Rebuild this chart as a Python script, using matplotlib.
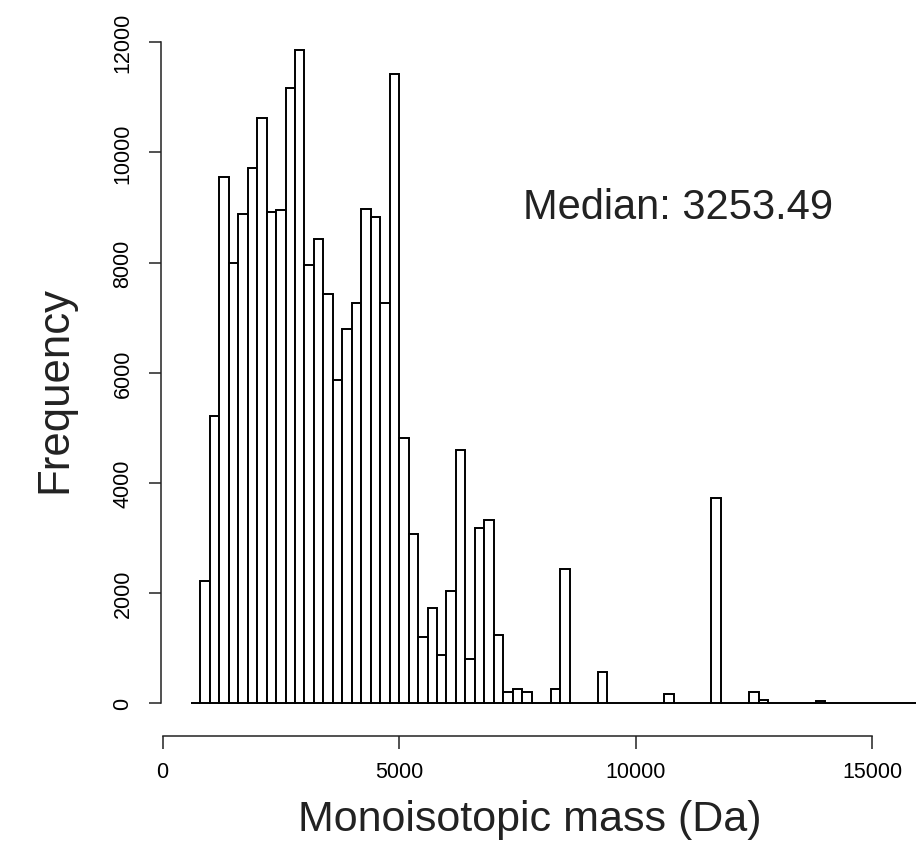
import numpy as np
import matplotlib
matplotlib.use('Agg')
import matplotlib.pyplot as plt

plt.rcParams['font.family'] = ['Liberation Sans', 'DejaVu Sans']

# histogram bins (200 Da wide), left edges
bin_width = 200
bin_starts = np.arange(600, 16200, bin_width)
counts = [0, 2220, 5220, 9560, 7990, 8890, 9720, 10620, 8920, 8950,
          11170, 11860, 7960, 8430, 7425, 5875, 6795, 7260, 8965, 8835,
          7260, 11420, 4805, 3075, 1190, 1730, 880, 2040, 4600, 805,
          3185, 3330, 1240, 205, 260, 205, 0, 0, 260, 2430,
          0, 0, 0, 570, 0, 0, 0, 0, 0, 0,
          155, 0, 0, 0, 0, 3720, 0, 0, 0, 205,
          55, 0, 0, 0, 0, 0, 30, 0, 0, 0,
          0, 0, 0, 0, 0, 0, 0, 0]

x_ticks = [0, 5000, 10000, 15000]
y_ticks = [0, 2000, 4000, 6000, 8000, 10000, 12000]
median_text = 'Median: 3253.49'

W, H = 916, 845
fig = plt.figure(figsize=(W / 100, H / 100), dpi=100)

# axes box: y axis line at x=160.7px, x axis line at y=737px
ax_left, ax_bottom = 160.7, 737.0
ax = fig.add_axes([ax_left / W, (H - ax_bottom) / H, (W - ax_left) / W, ax_bottom / H])

px_per_da = (872.4 - 162.5) / 15000
px_per_cnt = (704.0 - 43.3) / 12000
ax.set_xlim((ax_left - 162.5) / px_per_da, (W - 162.5) / px_per_da)
ax.set_ylim(-(ax_bottom - 704.0) / px_per_cnt, 704.0 / px_per_cnt)

ax.bar(bin_starts, counts, width=bin_width, align='edge',
       facecolor='white', edgecolor='black', linewidth=1.4, clip_on=True)

for s in ['top', 'right']:
    ax.spines[s].set_visible(False)
ax.spines['left'].set_bounds(0, 12000)
ax.spines['bottom'].set_bounds(0, 15000)
for s in ['left', 'bottom']:
    ax.spines[s].set_linewidth(1.1)
    ax.spines[s].set_color('#222222')

ax.set_xticks(x_ticks)
ax.set_yticks(y_ticks)
ax.tick_params(axis='both', direction='out', length=9, width=1.1,
               color='#222222', labelsize=15.5)
ax.tick_params(axis='x', pad=9)
ax.tick_params(axis='y', pad=10.5)
for lab in ax.get_yticklabels():
    lab.set_rotation(90)
    lab.set_rotation_mode('anchor')
    lab.set_ha('center')
    lab.set_va('bottom')

ax.text(10900, 9000, median_text, ha='center', va='center', fontsize=30, color='#222222')

fig.text(55 / W, 1 - 390 / H, 'Frequency', rotation=90, ha='center', va='center',
         fontsize=31.5, color='#222222')
fig.text(530 / W, 1 - 820 / H, 'Monoisotopic mass (Da)', ha='center', va='center',
         fontsize=31, color='#222222')

fig.savefig('out.png', dpi=100)
